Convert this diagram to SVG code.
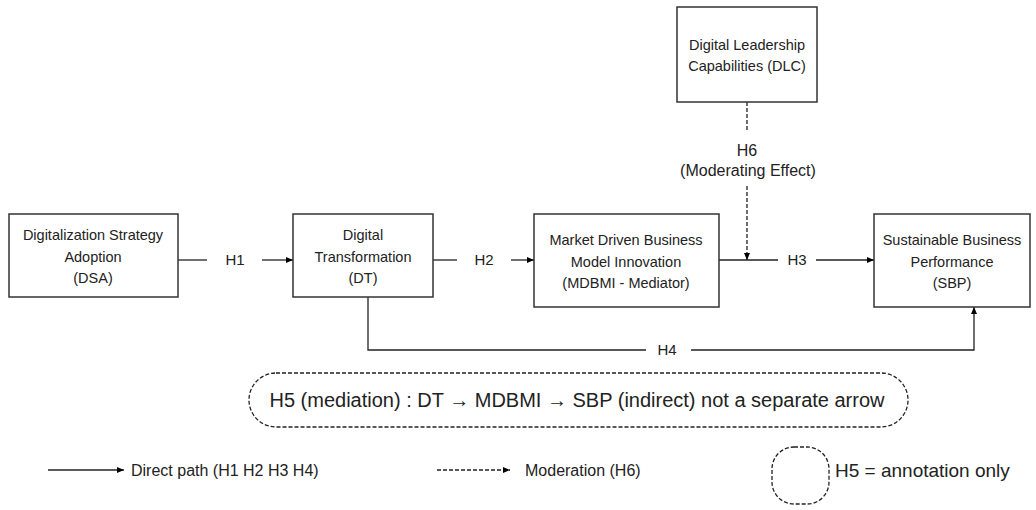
<svg xmlns="http://www.w3.org/2000/svg" width="1036" height="510" viewBox="0 0 1036 510">
<defs>
<marker id="ah" markerWidth="8" markerHeight="8" refX="7" refY="4" orient="auto" markerUnits="userSpaceOnUse">
<path d="M0,1 L7,4 L0,7 Z" fill="#000"/>
</marker>
<style>
.box{fill:#fff;stroke:#333;stroke-width:1.5}
.t{font-family:"Liberation Sans",Arial,sans-serif;font-size:14.5px;fill:#222;text-anchor:middle}
.lb{font-family:"Liberation Sans",Arial,sans-serif;font-size:15px;fill:#222;text-anchor:middle}
.ml{font-family:"Liberation Sans",Arial,sans-serif;font-size:16px;fill:#222;text-anchor:middle}
.ln{fill:none;stroke:#222;stroke-width:1.3}
.dash{fill:none;stroke:#222;stroke-width:1.3;stroke-dasharray:4,2}
.big{font-family:"Liberation Sans",Arial,sans-serif;font-size:16px;fill:#222}
</style>
</defs>
<rect width="1036" height="510" fill="#fff"/>
<g id="connectors">
<line class="ln" x1="178" y1="260" x2="207" y2="260"/>
<line class="ln" x1="262" y1="260" x2="293" y2="260" marker-end="url(#ah)"/>
<line class="ln" x1="433" y1="260" x2="457" y2="260"/>
<line class="ln" x1="511" y1="260" x2="534" y2="260" marker-end="url(#ah)"/>
<line class="ln" x1="719" y1="260" x2="778" y2="260"/>
<line class="ln" x1="816" y1="260" x2="874" y2="260" marker-end="url(#ah)"/>
<line class="dash" x1="747" y1="102" x2="747" y2="131"/>
<line class="dash" x1="747" y1="186" x2="747" y2="260" marker-end="url(#ah)"/>
<polyline class="ln" points="368,297 368,350 646,350"/>
<polyline class="ln" points="691,350 974,350 974,307" marker-end="url(#ah)"/>
<text class="lb" x="235" y="265">H1</text>
<text class="lb" x="484" y="265">H2</text>
<text class="lb" x="797" y="265">H3</text>
<text class="lb" x="667" y="355">H4</text>
<text class="ml" x="747" y="156">H6</text>
<text class="ml" x="748" y="176">(Moderating Effect)</text>
</g>
<g id="DSA">
<rect class="box" x="9" y="214" width="169" height="83"/>
<text class="t" x="93" y="240">Digitalization Strategy</text>
<text class="t" x="93" y="262">Adoption</text>
<text class="t" x="93" y="283">(DSA)</text>
</g>
<g id="DT">
<rect class="box" x="293" y="214" width="140" height="83"/>
<text class="t" x="363" y="240">Digital</text>
<text class="t" x="363" y="262">Transformation</text>
<text class="t" x="363" y="283">(DT)</text>
</g>
<g id="MDBMI">
<rect class="box" x="534" y="214" width="185" height="93"/>
<text class="t" x="626" y="245">Market Driven Business</text>
<text class="t" x="626" y="267">Model Innovation</text>
<text class="t" x="626" y="288">(MDBMI - Mediator)</text>
</g>
<g id="DLC">
<rect class="box" x="677" y="7" width="140" height="95"/>
<text class="t" x="747" y="50">Digital Leadership</text>
<text class="t" x="747" y="71">Capabilities (DLC)</text>
</g>
<g id="SBP">
<rect class="box" x="874" y="214" width="156" height="93"/>
<text class="t" x="952" y="245">Sustainable Business</text>
<text class="t" x="952" y="267">Performance</text>
<text class="t" x="952" y="288">(SBP)</text>
</g>
<g id="H5">
<rect class="dash" x="249" y="373" width="659" height="54" rx="27" ry="27"/>
<text class="big" x="577" y="407" text-anchor="middle" style="font-size:20px">H5 (mediation) : DT → MDBMI → SBP (indirect) not a separate arrow</text>
</g>
<g id="legend">
<line class="ln" x1="48" y1="470" x2="124" y2="470" marker-end="url(#ah)"/>
<text class="big" x="131" y="476">Direct path (H1 H2 H3 H4)</text>
<line class="dash" x1="437" y1="470" x2="510" y2="470" stroke-dasharray="3,2" marker-end="url(#ah)"/>
<text class="big" x="525" y="476">Moderation (H6)</text>
<rect class="dash" x="772" y="447" width="57" height="57" rx="22" ry="22"/>
<text class="big" x="835" y="477" style="font-size:19px">H5 = annotation only</text>
</g>
</svg>
